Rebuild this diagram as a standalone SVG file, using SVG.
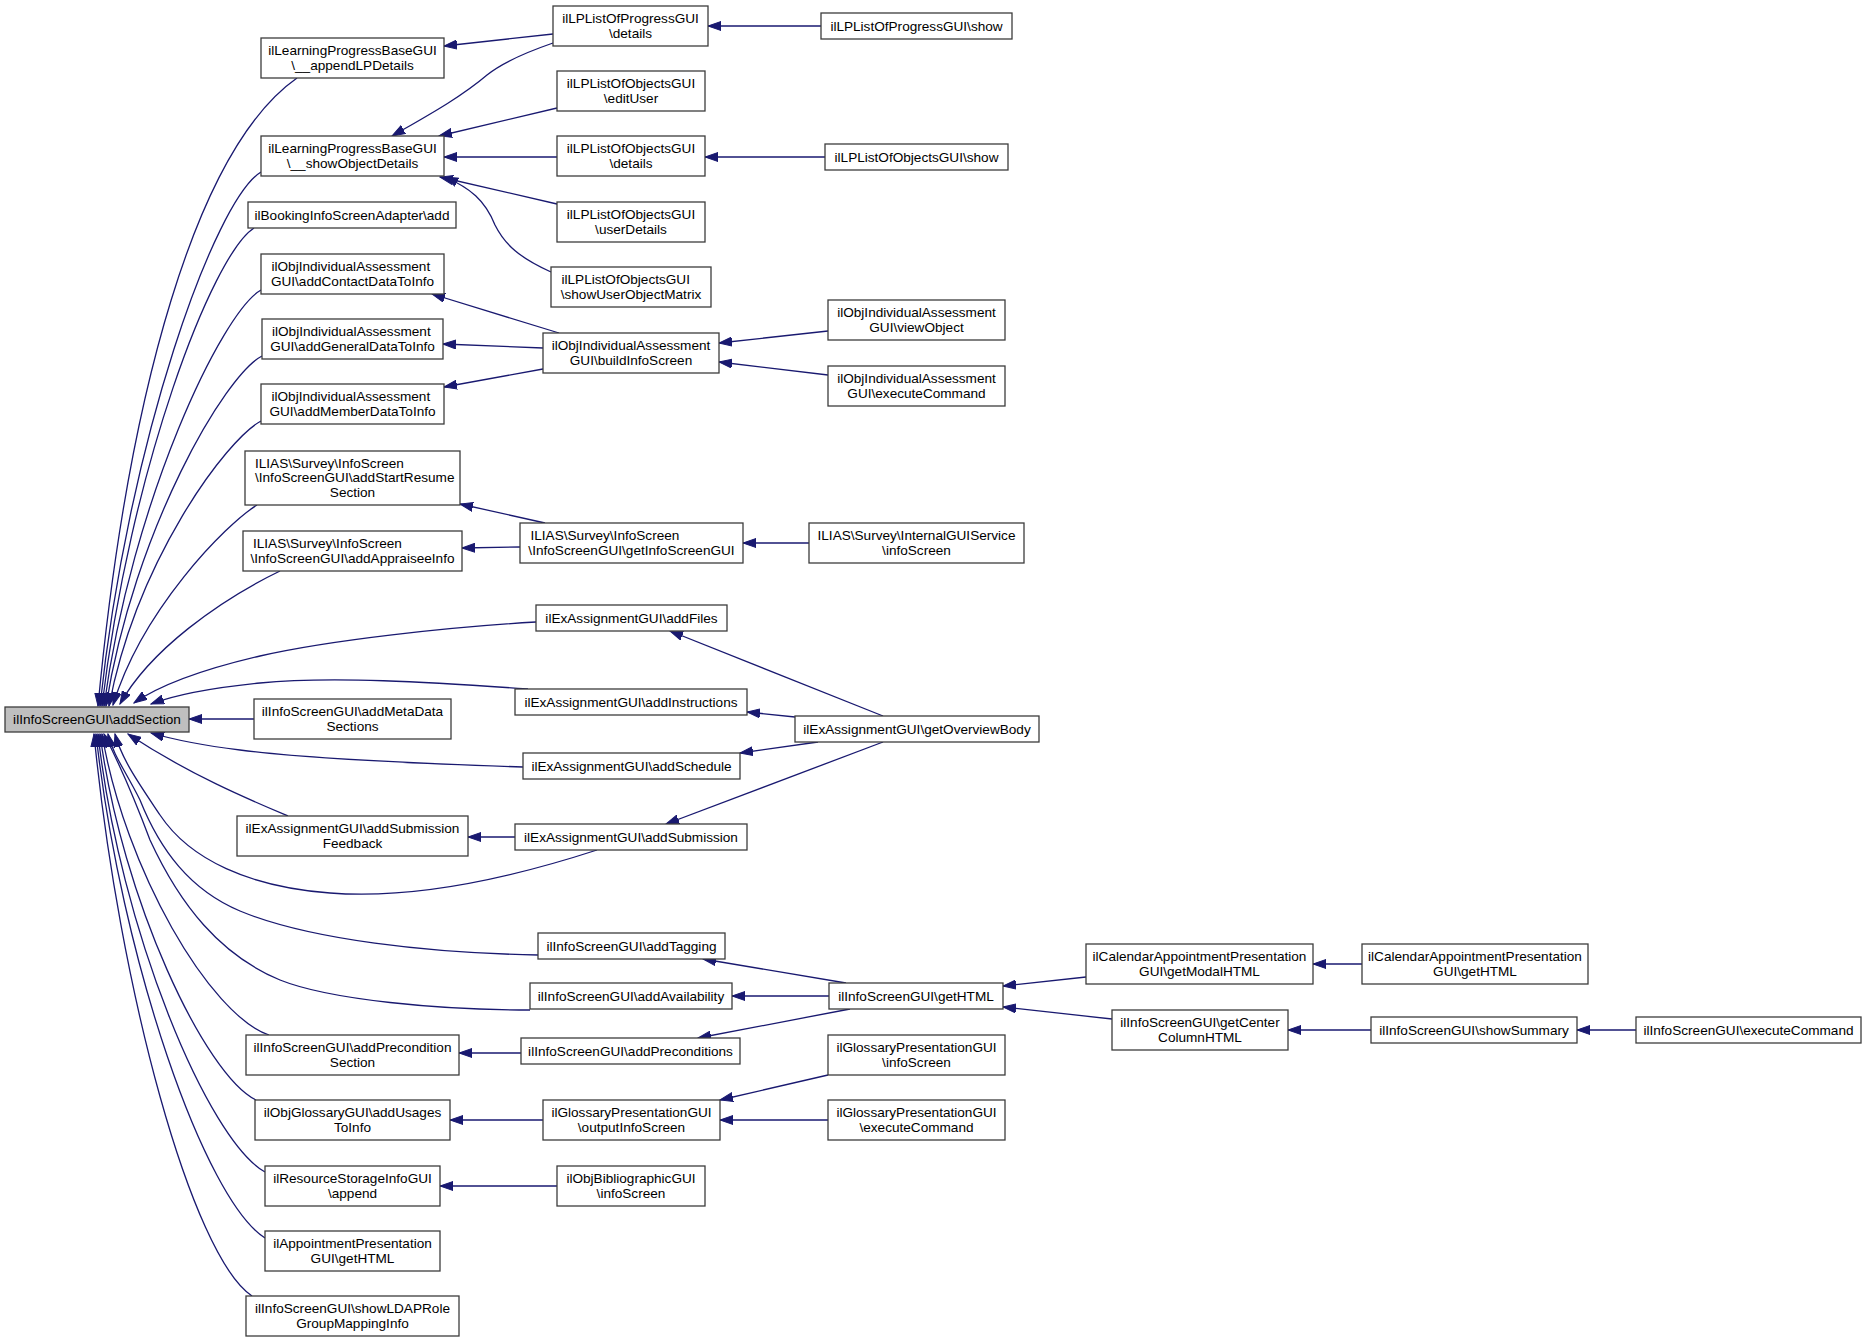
<svg xmlns="http://www.w3.org/2000/svg" width="1867" height="1343" viewBox="0 0 1867 1343">
<defs>
<style>
rect{fill:#fff;stroke:#3c3c3c;stroke-width:1.3}
rect.hl{fill:#bfbfbf}
text{font-family:"Liberation Sans",Arial,sans-serif;font-size:13.6px;fill:#000;text-anchor:middle}
text.l{text-anchor:start}
#edges path{fill:none;stroke:#191970;stroke-width:1.3;marker-end:url(#a)}
</style>
<marker id="a" markerUnits="userSpaceOnUse" markerWidth="14" markerHeight="10" viewBox="0 -5 14 10" refX="13" refY="0" orient="auto"><path d="M0,-4.5 L13,0 L0,4.5 Z" fill="#191970" stroke="#191970" stroke-width="1"/></marker>
</defs>
<rect x="0" y="0" width="1867" height="1343" style="fill:#fff;stroke:none"/>
<g id="edges">
<path d="M297,78 C197,148 128,390 98,706"/>
<path d="M261,172 C215,200 128,440 100,706"/>
<path d="M254,228 C212,255 130,470 102,706"/>
<path d="M261,290 C222,312 132,500 104,706"/>
<path d="M262,356 C225,375 134,530 106,706"/>
<path d="M261,421 C226,440 137,560 109,706"/>
<path d="M257,505 C225,525 142,610 113,705"/>
<path d="M280,571 C220,600 150,650 120,704"/>
<path d="M536,622 C450,627 330,640 260,656 C200,670 160,685 134,703"/>
<path d="M528,689 C430,682 330,676 260,683 C210,688 175,695 151,704"/>
<path d="M254,719 L189,719"/>
<path d="M523,767 C430,764 300,758 240,750 C200,745 175,740 151,733"/>
<path d="M288,816 C250,800 190,775 128,734"/>
<path d="M597,850 C520,875 420,900 330,893 C250,887 190,860 160,815 C140,785 122,760 115,734"/>
<path d="M538,955 C430,953 310,940 240,911 C190,890 160,850 140,800 C125,770 113,755 108,734"/>
<path d="M530,1010 C440,1010 330,1000 280,980 C220,955 180,905 150,840 C135,800 120,765 104,734"/>
<path d="M269,1035 C210,1015 125,870 102,734"/>
<path d="M256,1100 C205,1075 122,900 100,734"/>
<path d="M265,1172 C208,1140 120,930 98,734"/>
<path d="M265,1238 C205,1200 121,960 96,734"/>
<path d="M252,1296 C192,1256 119,990 94,734"/>
<path d="M553,34 L444,46"/>
<path d="M553,43 C527,52 503,62 487,75 C460,98 425,117 392,136"/>
<path d="M821,26 L708,26"/>
<path d="M557,108 L439,136"/>
<path d="M557,157 L444,157"/>
<path d="M557,204 L440,177"/>
<path d="M551,272 C520,258 505,245 495,225 C485,200 470,188 445,177"/>
<path d="M825,157 L705,157"/>
<path d="M559,333 L432,294"/>
<path d="M543,348 L443,344"/>
<path d="M543,369 L444,387"/>
<path d="M828,331 L719,343"/>
<path d="M828,375 L719,362"/>
<path d="M545,523 L460,504"/>
<path d="M520,547 L462,548"/>
<path d="M809,543 L743,543"/>
<path d="M883,716 L670,631"/>
<path d="M795,717 L747,712"/>
<path d="M818,742 L740,753"/>
<path d="M883,742 L666,824"/>
<path d="M515,837 L468,837"/>
<path d="M846,983 L703,959"/>
<path d="M829,996 L732,996"/>
<path d="M850,1009 L698,1038"/>
<path d="M521,1053 L459,1053"/>
<path d="M1086,977 L1003,986"/>
<path d="M1112,1019 L1003,1007"/>
<path d="M1362,964 L1313,964"/>
<path d="M1371,1030 L1288,1030"/>
<path d="M1636,1030 L1577,1030"/>
<path d="M543,1120 L450,1120"/>
<path d="M828,1075 L720,1100"/>
<path d="M828,1120 L720,1120"/>
<path d="M557,1186 L440,1186"/>
</g>
<g id="n1"><rect class="hl" x="5" y="707" width="184" height="25"/><text x="97" y="724">ilInfoScreenGUI\addSection</text></g>
<g id="n2"><rect x="261" y="38" width="183" height="40"/><text x="352.5" y="55">ilLearningProgressBaseGUI</text><text x="352.5" y="69.5">\__appendLPDetails</text></g>
<g id="n3"><rect x="261" y="136" width="183" height="40"/><text x="352.5" y="153">ilLearningProgressBaseGUI</text><text x="352.5" y="167.5">\__showObjectDetails</text></g>
<g id="n4"><rect x="248" y="202" width="208" height="26"/><text x="352" y="220">ilBookingInfoScreenAdapter\add</text></g>
<g id="n5"><rect x="261" y="254" width="183" height="40"/><text class="l" x="271.5" y="271">ilObjIndividualAssessment</text><text x="352.5" y="285.5">GUI\addContactDataToInfo</text></g>
<g id="n6"><rect x="262" y="319" width="181" height="40"/><text class="l" x="272" y="336">ilObjIndividualAssessment</text><text x="352.5" y="350.5">GUI\addGeneralDataToInfo</text></g>
<g id="n7"><rect x="261" y="384" width="183" height="40"/><text class="l" x="271.5" y="401">ilObjIndividualAssessment</text><text x="352.5" y="415.5">GUI\addMemberDataToInfo</text></g>
<g id="n8"><rect x="245" y="451" width="215" height="54"/><text class="l" x="255" y="468">ILIAS\Survey\InfoScreen</text><text class="l" x="255" y="482.3">\InfoScreenGUI\addStartResume</text><text x="352.5" y="496.6">Section</text></g>
<g id="n9"><rect x="243" y="531" width="219" height="40"/><text class="l" x="253" y="548">ILIAS\Survey\InfoScreen</text><text x="352.5" y="562.5">\InfoScreenGUI\addAppraiseeInfo</text></g>
<g id="n10"><rect x="254" y="699" width="197" height="40"/><text x="352.5" y="716">ilInfoScreenGUI\addMetaData</text><text x="352.5" y="730.5">Sections</text></g>
<g id="n11"><rect x="237" y="816" width="231" height="40"/><text x="352.5" y="833">ilExAssignmentGUI\addSubmission</text><text x="352.5" y="847.5">Feedback</text></g>
<g id="n12"><rect x="246" y="1035" width="213" height="40"/><text x="352.5" y="1052">ilInfoScreenGUI\addPrecondition</text><text x="352.5" y="1066.5">Section</text></g>
<g id="n13"><rect x="255" y="1100" width="195" height="40"/><text x="352.5" y="1117">ilObjGlossaryGUI\addUsages</text><text x="352.5" y="1131.5">ToInfo</text></g>
<g id="n14"><rect x="265" y="1166" width="175" height="40"/><text x="352.5" y="1183">ilResourceStorageInfoGUI</text><text x="352.5" y="1197.5">\append</text></g>
<g id="n15"><rect x="265" y="1231" width="175" height="40"/><text x="352.5" y="1248">ilAppointmentPresentation</text><text x="352.5" y="1262.5">GUI\getHTML</text></g>
<g id="n16"><rect x="246" y="1296" width="213" height="40"/><text x="352.5" y="1313">ilInfoScreenGUI\showLDAPRole</text><text x="352.5" y="1327.5">GroupMappingInfo</text></g>
<g id="n17"><rect x="553" y="6" width="155" height="40"/><text x="630.5" y="23">ilLPListOfProgressGUI</text><text x="630.5" y="37.5">\details</text></g>
<g id="n18"><rect x="557" y="71" width="148" height="40"/><text x="631" y="88">ilLPListOfObjectsGUI</text><text x="631" y="102.5">\editUser</text></g>
<g id="n19"><rect x="557" y="136" width="148" height="40"/><text x="631" y="153">ilLPListOfObjectsGUI</text><text x="631" y="167.5">\details</text></g>
<g id="n20"><rect x="557" y="202" width="148" height="40"/><text x="631" y="219">ilLPListOfObjectsGUI</text><text x="631" y="233.5">\userDetails</text></g>
<g id="n21"><rect x="551" y="267" width="160" height="40"/><text class="l" x="561.5" y="284">ilLPListOfObjectsGUI</text><text x="631" y="298.5">\showUserObjectMatrix</text></g>
<g id="n22"><rect x="821" y="13" width="191" height="26"/><text x="916.5" y="31">ilLPListOfProgressGUI\show</text></g>
<g id="n23"><rect x="825" y="144" width="183" height="26"/><text x="916.5" y="162">ilLPListOfObjectsGUI\show</text></g>
<g id="n24"><rect x="828" y="300" width="177" height="40"/><text x="916.5" y="317">ilObjIndividualAssessment</text><text x="916.5" y="331.5">GUI\viewObject</text></g>
<g id="n25"><rect x="543" y="333" width="176" height="40"/><text x="631" y="350">ilObjIndividualAssessment</text><text x="631" y="364.5">GUI\buildInfoScreen</text></g>
<g id="n26"><rect x="828" y="366" width="177" height="40"/><text x="916.5" y="383">ilObjIndividualAssessment</text><text x="916.5" y="397.5">GUI\executeCommand</text></g>
<g id="n27"><rect x="520" y="523" width="223" height="40"/><text class="l" x="530.5" y="540">ILIAS\Survey\InfoScreen</text><text x="631.5" y="554.5">\InfoScreenGUI\getInfoScreenGUI</text></g>
<g id="n28"><rect x="809" y="523" width="215" height="40"/><text x="916.5" y="540">ILIAS\Survey\InternalGUIService</text><text x="916.5" y="554.5">\infoScreen</text></g>
<g id="n29"><rect x="536" y="605" width="191" height="26"/><text x="631.5" y="623">ilExAssignmentGUI\addFiles</text></g>
<g id="n30"><rect x="515" y="689" width="232" height="26"/><text x="631" y="707">ilExAssignmentGUI\addInstructions</text></g>
<g id="n31"><rect x="795" y="716" width="244" height="26"/><text x="917" y="734">ilExAssignmentGUI\getOverviewBody</text></g>
<g id="n32"><rect x="523" y="753" width="217" height="26"/><text x="631.5" y="771">ilExAssignmentGUI\addSchedule</text></g>
<g id="n33"><rect x="515" y="824" width="232" height="26"/><text x="631" y="842">ilExAssignmentGUI\addSubmission</text></g>
<g id="n34"><rect x="538" y="933" width="187" height="26"/><text x="631.5" y="951">ilInfoScreenGUI\addTagging</text></g>
<g id="n35"><rect x="530" y="983" width="202" height="26"/><text x="631" y="1001">ilInfoScreenGUI\addAvailability</text></g>
<g id="n36"><rect x="829" y="983" width="174" height="26"/><text x="916" y="1001">ilInfoScreenGUI\getHTML</text></g>
<g id="n37"><rect x="521" y="1038" width="219" height="26"/><text x="630.5" y="1056">ilInfoScreenGUI\addPreconditions</text></g>
<g id="n38"><rect x="828" y="1035" width="177" height="40"/><text x="916.5" y="1052">ilGlossaryPresentationGUI</text><text x="916.5" y="1066.5">\infoScreen</text></g>
<g id="n39"><rect x="543" y="1100" width="177" height="40"/><text x="631.5" y="1117">ilGlossaryPresentationGUI</text><text x="631.5" y="1131.5">\outputInfoScreen</text></g>
<g id="n40"><rect x="828" y="1100" width="177" height="40"/><text x="916.5" y="1117">ilGlossaryPresentationGUI</text><text x="916.5" y="1131.5">\executeCommand</text></g>
<g id="n41"><rect x="557" y="1166" width="148" height="40"/><text x="631" y="1183">ilObjBibliographicGUI</text><text x="631" y="1197.5">\infoScreen</text></g>
<g id="n42"><rect x="1086" y="944" width="227" height="40"/><text x="1199.5" y="961">ilCalendarAppointmentPresentation</text><text x="1199.5" y="975.5">GUI\getModalHTML</text></g>
<g id="n43"><rect x="1362" y="944" width="226" height="40"/><text x="1475" y="961">ilCalendarAppointmentPresentation</text><text x="1475" y="975.5">GUI\getHTML</text></g>
<g id="n44"><rect x="1112" y="1010" width="176" height="40"/><text x="1200" y="1027">ilInfoScreenGUI\getCenter</text><text x="1200" y="1041.5">ColumnHTML</text></g>
<g id="n45"><rect x="1371" y="1017" width="206" height="26"/><text x="1474" y="1035">ilInfoScreenGUI\showSummary</text></g>
<g id="n46"><rect x="1636" y="1017" width="225" height="26"/><text x="1748.5" y="1035">ilInfoScreenGUI\executeCommand</text></g>
</svg>
